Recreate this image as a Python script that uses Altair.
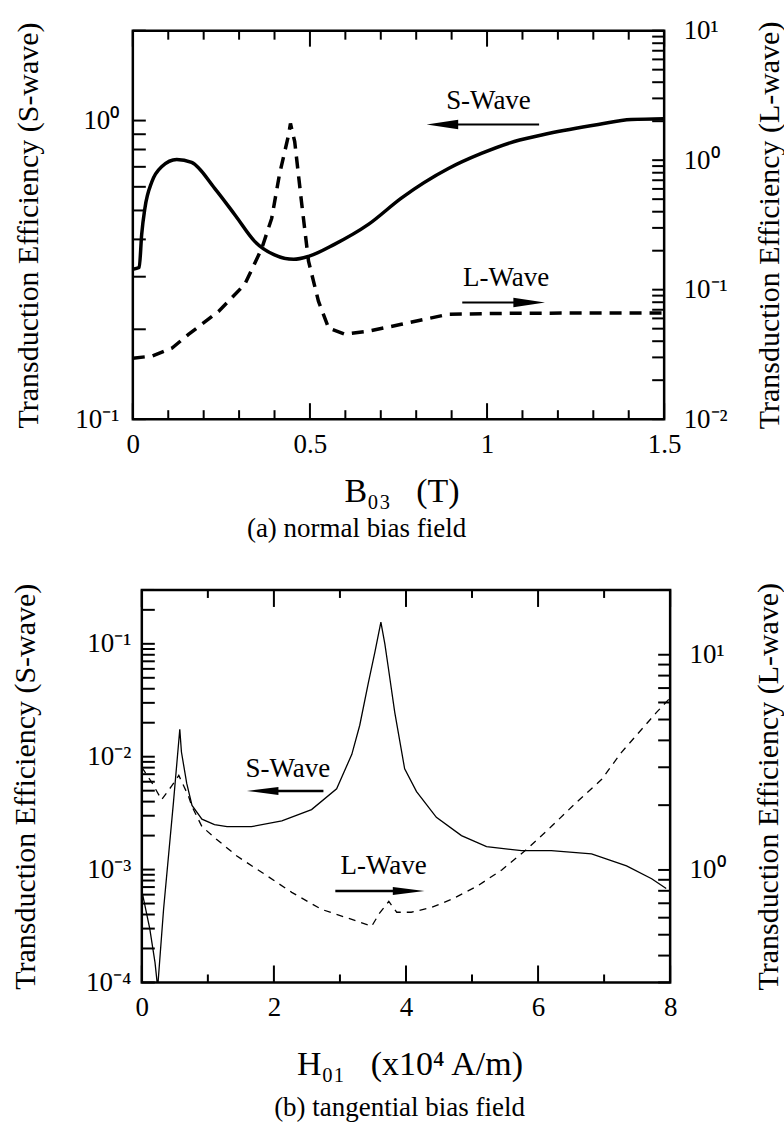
import altair as alt
import pandas as pd

SERIF = "Liberation Serif"

# ---------------- (a) normal bias field ----------------
# S-wave efficiency (left axis) and L-wave efficiency (right axis) vs B03 [T]
a_s_x = [0.0, 0.018, 0.025, 0.034, 0.054, 0.082, 0.124, 0.166, 0.231, 0.29, 0.344, 0.40,
         0.454, 0.496, 0.569, 0.665, 0.758, 0.891, 0.984, 1.077, 1.173, 1.314, 1.407, 1.5]
a_s_y = [0.318, 0.322, 0.416, 0.508, 0.625, 0.702, 0.741, 0.724, 0.593, 0.48, 0.394, 0.355,
         0.343, 0.351, 0.385, 0.449, 0.55, 0.691, 0.776, 0.851, 0.905, 0.970, 1.008, 1.015]
a_l_x = [0.0, 0.054, 0.110, 0.158, 0.242, 0.316, 0.364, 0.392, 0.414, 0.440, 0.445, 0.457,
         0.476, 0.496, 0.524, 0.553, 0.598, 0.665, 0.758, 0.891, 1.077, 1.3, 1.5]
a_l_y = [0.0296, 0.0307, 0.0353, 0.0453, 0.068, 0.110, 0.208, 0.355, 0.776, 1.58, 1.92, 1.39,
         0.481, 0.166, 0.0815, 0.0504, 0.0453, 0.0478, 0.054, 0.0646, 0.0658, 0.066, 0.066]

# ---------------- (b) tangential bias field ----------------
# vs H01 [x10^4 A/m]
b_s_x = [0.0, 0.12, 0.2, 0.24, 0.33, 0.48, 0.575, 0.6, 0.68, 0.76, 0.91, 1.1, 1.29, 1.66,
         2.12, 2.57, 2.95, 3.18, 3.3, 3.43, 3.53, 3.62, 3.68, 3.73, 3.83, 3.98, 4.16, 4.46,
         4.84, 5.22, 5.75, 6.2, 6.81, 7.34, 7.72, 7.94]
b_s_y = [6.5e-4, 3.0e-4, 1.5e-4, 9e-5, 4.5e-4, 4.0e-3, 0.0175, 0.011, 0.0058, 0.0037, 0.0028,
         0.0025, 0.0024, 0.0024, 0.0027, 0.0034, 0.0052, 0.0105, 0.019, 0.045, 0.085, 0.156,
         0.1, 0.063, 0.0247, 0.0078, 0.0049, 0.0029, 0.002, 0.0016, 0.00147, 0.00147, 0.00138,
         0.00108, 0.00083, 0.00068]
b_l_x = [0.0, 0.15, 0.3, 0.45, 0.56, 0.71, 0.76, 0.91, 1.13, 1.44, 1.82, 2.27, 2.72, 3.18,
         3.48, 3.6, 3.74, 3.86, 4.08, 4.39, 4.69, 5.07, 5.45, 5.82, 6.2, 6.58, 6.96, 7.26,
         7.79, 8.0]
b_l_y = [3.0, 2.55, 2.12, 2.45, 2.75, 2.19, 1.97, 1.59, 1.39, 1.16, 0.973, 0.787, 0.656,
         0.589, 0.547, 0.63, 0.714, 0.636, 0.636, 0.67, 0.73, 0.838, 1.0, 1.24, 1.59, 2.06,
         2.63, 3.51, 5.38, 6.3]

# ---------------- axes ----------------
a_x_major = [0, 0.5, 1.0, 1.5]
a_x_minor = [0.1, 0.2, 0.3, 0.4, 0.6, 0.7, 0.8, 0.9, 1.1, 1.2, 1.3, 1.4]
b_x_major = [0, 2, 4, 6, 8]
b_x_minor = [1, 3, 5, 7]

a_left_dom, a_right_dom = [0.1, 2.0], [0.01, 10.0]
b_left_dom, b_right_dom = [1e-4, 0.3], [0.3, 20.0]
a_left_labels, a_right_labels = [0.1, 1.0], [0.01, 0.1, 1.0, 10.0]
b_left_labels, b_right_labels = [1e-4, 1e-3, 1e-2, 1e-1], [1.0, 10.0]

# ---------------- annotations ----------------
a_ann_text = ["S-Wave", "L-Wave"]
a_ann_x = [1.004, 1.054]
a_ann_y = [1.166, 0.298]
a_arrow_x1 = [0.874, 0.930]
a_arrow_x2 = [1.147, 1.119]
a_arrow_y = [0.97, 0.246]
a_head_x = [0.874, 1.119]

b_ann_text = ["S-Wave", "L-Wave"]
b_ann_x = [2.21, 3.66]
b_ann_y = [0.00776, 0.00108]
b_arrow_x1 = [1.83, 2.93]
b_arrow_x2 = [2.75, 4.04]
b_arrow_y = [0.00497, 0.000646]
b_head_x = [1.83, 4.04]

HEAD_LEFT = "M -1 0 L 1 -R L 1 R Z"
HEAD_RIGHT = "M 1 0 L -1 -R L -1 R Z"

SUP = "['10\u207b\u2074','10\u207b\u00b3','10\u207b\u00b2','10\u207b\u00b9','10\u2070','10\u00b9']"
LOG_LABEL = SUP + "[round(log(datum.value) / LN10) + 4]"

LABEL_SIZE = 27
TITLE_SIZE = 30
XTITLE_SIZE = 34
TEXT_SIZE = 27
GAP = "\u2002\u00a0"


def decade_ticks(lo, hi):
    vals = []
    for k in range(-5, 3):
        for m in range(1, 10):
            v = float(f"{m}e{k}")
            if lo * 0.9999 <= v <= hi * 1.0001:
                vals.append(v)
    return vals


def y_axis(values, title, orient, pad, title_x):
    return alt.Axis(
        orient=orient, values=values, labelExpr=LOG_LABEL, ticks=False, tickSize=0,
        domain=False, grid=False, labelFont=SERIF, labelFontSize=LABEL_SIZE,
        labelColor="black", labelPadding=pad, labelFlush=False, labelOverlap=False,
        labelBound=False, title=title, titleFont=SERIF, titleFontSize=TITLE_SIZE,
        titleFontWeight="normal", titleColor="black", titleAngle=270,
        titleAlign="center", titleBaseline="middle", titleX=title_x,
    )


def panel(W, H, x_off, x_dom, x_major, x_minor, x_title, x_title_x, x_title_y,
          s_x, s_y, l_x, l_y, left_dom, right_dom, left_labels, right_labels,
          left_pad, right_pad, left_title_x, right_title_x,
          line_w, dash, s_interp, ann, caption, caption_dx, caption_offset,
          x_major_len, x_minor_len, y_left_len, y_right_len, tick_w, frame_w,
          arrow_w, head_size, head_ratio):
    xs = alt.Scale(domain=x_dom, range=[x_off, W], nice=False, zero=False)
    ls = alt.Scale(type="log", domain=left_dom, nice=False)
    rs = alt.Scale(type="log", domain=right_dom, nice=False)

    x_axis = alt.Axis(
        values=x_major, format="~g", ticks=False, tickSize=0, domain=False, grid=False,
        labelFont=SERIF, labelFontSize=LABEL_SIZE, labelColor="black", labelPadding=12,
        labelFlush=False, labelOverlap=False,
        title=x_title, titleFont=SERIF, titleFontSize=XTITLE_SIZE,
        titleFontWeight="normal", titleColor="black", titleBaseline="middle",
        titleAlign="center", titleX=x_title_x, titleY=x_title_y,
    )

    def X(field):
        return alt.X(field, scale=xs, axis=x_axis)

    s_df = pd.DataFrame({"x": s_x, "y": s_y})
    l_df = pd.DataFrame({"x": l_x, "y": l_y})

    s_line = alt.Chart(s_df).mark_line(
        color="black", strokeWidth=line_w, clip=True, interpolate=s_interp
    ).encode(
        x=X("x:Q"),
        y=alt.Y("y:Q", scale=ls,
                axis=y_axis(left_labels, "Transduction Efficiency (S-wave)", "left",
                            left_pad, left_title_x)),
    )
    l_line = alt.Chart(l_df).mark_line(
        color="black", strokeWidth=line_w, strokeDash=dash, clip=True
    ).encode(
        x=X("x:Q"),
        y=alt.Y("y:Q", scale=rs,
                axis=y_axis(right_labels, "Transduction Efficiency (L-wave)", "right",
                            right_pad, right_title_x)),
    )

    layers = [s_line, l_line]

    # inward ticks on all four sides
    def xticks(vals, length):
        d = pd.DataFrame({"v": vals})
        bottom = alt.Chart(d).mark_rule(color="black", strokeWidth=tick_w).encode(
            x=X("v:Q"), y=alt.value(H), y2=alt.value(H - length))
        top = alt.Chart(d).mark_rule(color="black", strokeWidth=tick_w).encode(
            x=X("v:Q"), y=alt.value(0), y2=alt.value(length))
        return [bottom, top]

    layers += xticks(x_major, x_major_len) + xticks(x_minor, x_minor_len)

    lt = pd.DataFrame({"v": decade_ticks(*left_dom)})
    rt = pd.DataFrame({"v": decade_ticks(*right_dom)})
    layers.append(alt.Chart(lt).mark_rule(color="black", strokeWidth=tick_w).encode(
        y=alt.Y("v:Q", scale=ls, axis=None), x=alt.value(x_off),
        x2=alt.value(x_off + y_left_len)))
    layers.append(alt.Chart(rt).mark_rule(color="black", strokeWidth=tick_w).encode(
        y=alt.Y("v:Q", scale=rs, axis=None), x=alt.value(W),
        x2=alt.value(W - y_right_len)))

    # plot frame
    fdf = pd.DataFrame({"x0": [x_dom[0]], "x1": [x_dom[1]]})
    layers.append(alt.Chart(fdf).mark_rect(
        fill=None, stroke="black", strokeWidth=frame_w
    ).encode(x=X("x0:Q"), x2="x1:Q", y=alt.value(0), y2=alt.value(H)))

    # wave labels and arrows
    text, tx, ty, ax1, ax2, ay, hx = ann
    tdf = pd.DataFrame({"t": text, "x": tx, "y": ty})
    layers.append(alt.Chart(tdf).mark_text(
        font=SERIF, fontSize=TEXT_SIZE, color="black", align="center", baseline="middle"
    ).encode(x=X("x:Q"), y=alt.Y("y:Q", scale=ls, axis=None), text="t:N"))
    adf = pd.DataFrame({"x1": ax1, "x2": ax2, "y": ay})
    layers.append(alt.Chart(adf).mark_rule(color="black", strokeWidth=arrow_w).encode(
        x=X("x1:Q"), x2="x2:Q", y=alt.Y("y:Q", scale=ls, axis=None)))
    for i, shape in enumerate([HEAD_LEFT, HEAD_RIGHT]):
        hdf = pd.DataFrame({"x": [hx[i]], "y": [ay[i]]})
        path = shape.replace("R", str(head_ratio))
        layers.append(alt.Chart(hdf).mark_point(
            shape=path, filled=True, color="black", opacity=1, size=head_size,
            strokeWidth=0
        ).encode(x=X("x:Q"), y=alt.Y("y:Q", scale=ls, axis=None)))

    return alt.layer(*layers).resolve_scale(y="independent").properties(
        width=W, height=H,
        title=alt.TitleParams(
            caption, orient="bottom", anchor="middle", frame="group", dx=caption_dx,
            offset=caption_offset, font=SERIF, fontSize=TEXT_SIZE, fontWeight="normal",
            color="black"),
    )


top = panel(
    532, 389, 0, [0, 1.5], a_x_major, a_x_minor, "B\u2080\u2083" + GAP + "(T)", 269, 72,
    a_s_x, a_s_y, a_l_x, a_l_y, a_left_dom, a_right_dom, a_left_labels, a_right_labels,
    14, 19, -104, 105,
    3.5, [12, 8], "monotone",
    (a_ann_text, a_ann_x, a_ann_y, a_arrow_x1, a_arrow_x2, a_arrow_y, a_head_x),
    "(a) normal bias field", -42, 8,
    16, 9, 13, 12, 2, 2.5, 2, 1000, 0.3,
)

bottom = panel(
    538, 393, 9, [0, 8], b_x_major, b_x_minor,
    "H\u2080\u2081" + GAP + "(x10\u2074 A/m)", 277, 82,
    b_s_x, b_s_y, b_l_x, b_l_y, b_left_dom, b_right_dom, b_left_labels, b_right_labels,
    2, 19, -107, 98,
    1.3, [7, 6], "linear",
    (b_ann_text, b_ann_x, b_ann_y, b_arrow_x1, b_arrow_x2, b_arrow_y, b_head_x),
    "(b) tangential bias field", -2, 14,
    17, 8, 13, 12, 2, 2.5, 2.5, 1000, 0.25,
)

chart = alt.vconcat(top, bottom, spacing=40).properties(
    padding={"left": 10, "top": 16, "right": 0, "bottom": 0}
).configure_view(stroke=None).configure_axis(grid=False)

chart.save("out.html", embed_options={"renderer": "svg", "actions": False})
